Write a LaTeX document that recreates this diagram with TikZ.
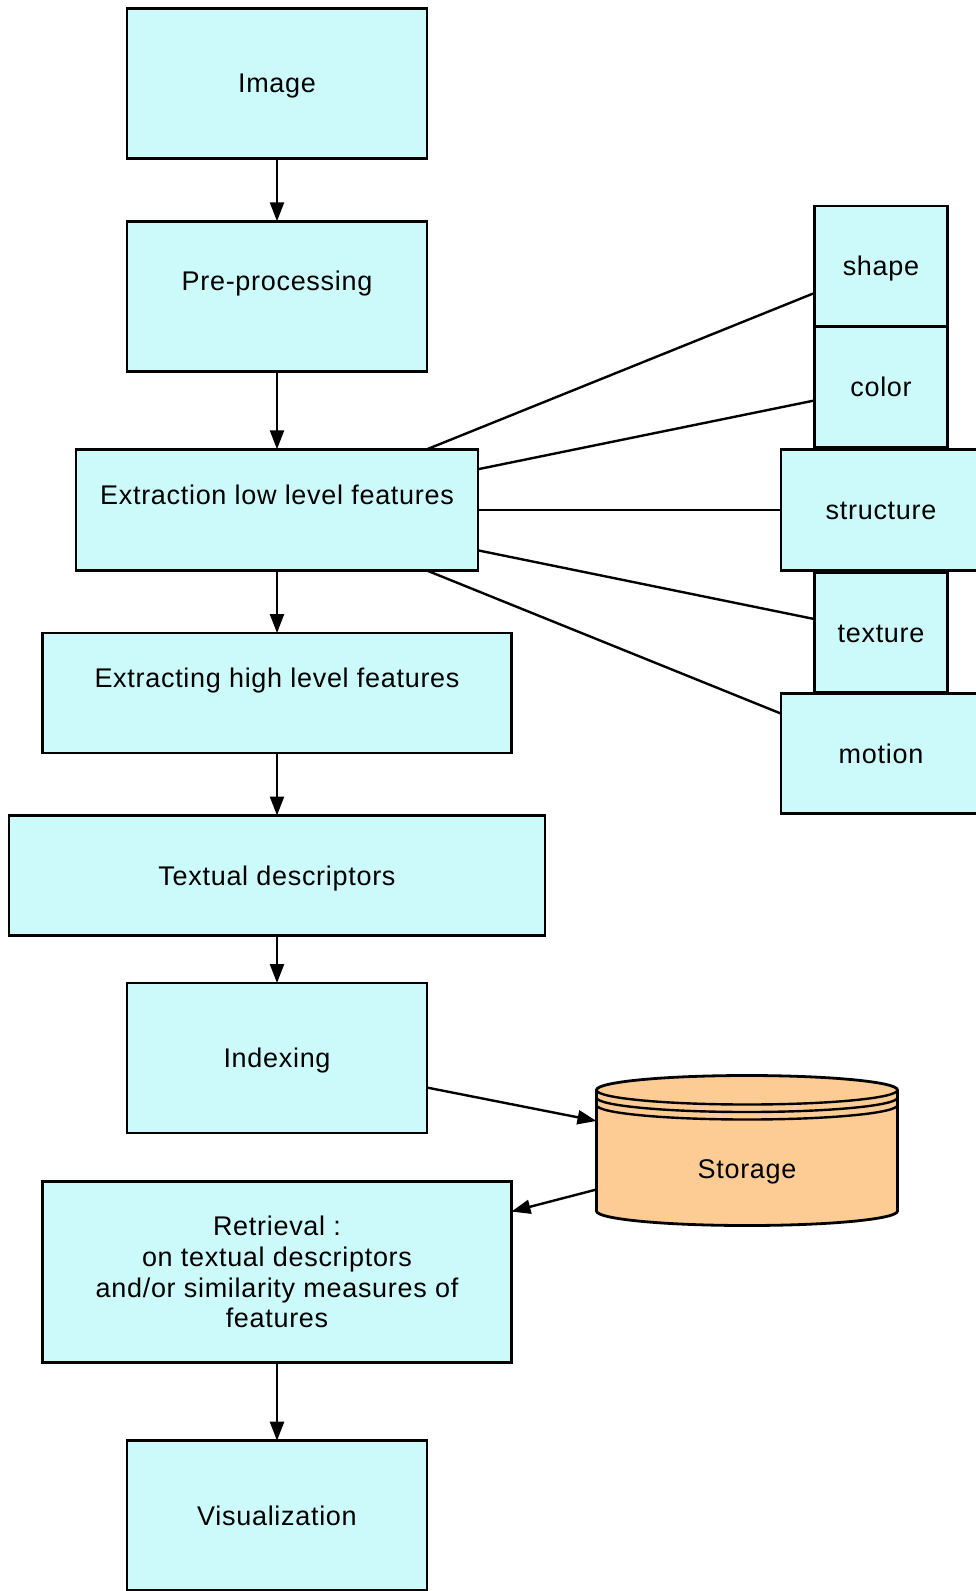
\documentclass[tikz,border=0pt]{standalone}
\usepackage{fontspec}
\setmainfont{Liberation Sans}[LetterSpace=2.6]
\usetikzlibrary{arrows.meta,calc}
\definecolor{boxfill}{RGB}{204,250,250}
\definecolor{storefill}{RGB}{252,204,148}
\begin{document}
\begin{tikzpicture}[x=1pt,y=-1pt,
  box/.style={draw=black, line width=2.8pt, fill=boxfill, rectangle, inner sep=0pt, outer sep=0pt},
  txt/.style={font=\fontsize{27}{30.8}\selectfont, inner sep=0pt, text height=24.5pt, text depth=5.5pt},
  mtxt/.style={font=\fontsize{27}{30.8}\selectfont, inner sep=0pt, align=center},
  flow/.style={line width=2.4pt, -{Triangle[length=19pt,width=14pt]}},
  link/.style={line width=2.4pt},
]
\useasboundingbox (0,0) rectangle (976,1591);

% main pipeline
\node[box, minimum width=300pt, minimum height=150pt,
      label={[txt]center:Image}] (img) at (277,83.2) {};
\node[box, minimum width=300pt, minimum height=150pt,
      label={[txt, yshift=15.3pt]center:Pre-processing}] (pre) at (277,296.3) {};
\node[box, minimum width=402pt, minimum height=121pt,
      label={[txt, yshift=14.8pt]center:Extraction low level features}] (ext) at (277,509.8) {};
\node[box, minimum width=469pt, minimum height=120pt,
      label={[txt, yshift=15.3pt]center:Extracting high level features}] (high) at (277,693) {};
\node[box, minimum width=536pt, minimum height=120pt,
      label={[txt]center:Textual descriptors}] (textual) at (277,875.5) {};
\node[box, minimum width=300pt, minimum height=150pt,
      label={[txt]center:Indexing}] (idx) at (277,1058) {};
\node[box, minimum width=469pt, minimum height=181pt,
      label={[mtxt]center:{Retrieval :\\on textual descriptors\\and/or similarity measures of\\features}}] (ret) at (277,1272) {};
\node[box, minimum width=300pt, minimum height=150pt,
      label={[txt]center:Visualization}] (vis) at (277,1515.7) {};

% low level feature kinds
\node[box, minimum width=133pt, minimum height=120.5pt,
      label={[txt]center:shape}] (shape) at (881,266.3) {};
\node[box, minimum width=133pt, minimum height=120.5pt,
      label={[txt]center:color}] (color) at (881,387) {};
\node[box, minimum width=200pt, minimum height=121pt,
      label={[txt]center:structure}] (structure) at (881,509.8) {};
\node[box, minimum width=133pt, minimum height=120.5pt,
      label={[txt]center:texture}] (texture) at (881,632.5) {};
\node[box, minimum width=200pt, minimum height=120pt,
      label={[txt]center:motion}] (motion) at (881,753.8) {};

% storage cylinder
\node[rectangle, minimum width=301pt, minimum height=150pt, inner sep=0pt, outer sep=0pt] (sto) at (747,1150.5) {};
\filldraw[fill=storefill, line width=2.8pt]
  ($(sto.north west)+(0,14.5)$) -- ($(sto.south west)+(0,-14.5)$)
  arc[start angle=180, end angle=360, x radius=150.5pt, y radius=14.5pt]
  -- ($(sto.north east)+(0,14.5)$)
  arc[start angle=0, end angle=180, x radius=150.5pt, y radius=14.5pt] -- cycle;
\draw[line width=2.4pt] ($(sto.north west)+(0,14.5)$)
  arc[start angle=180, end angle=360, x radius=150.5pt, y radius=14.5pt];
\draw[line width=2.4pt] ($(sto.north west)+(0,22)$)
  arc[start angle=180, end angle=360, x radius=150.5pt, y radius=14.5pt];
\draw[line width=2.4pt] ($(sto.north west)+(0,29.5)$)
  arc[start angle=180, end angle=360, x radius=150.5pt, y radius=14.5pt];
\node[txt] (stotext) at ($(sto.center)+(0,18)$) {Storage};

% connectors
\draw[flow] (img) -- (pre);
\draw[flow] (pre) -- (ext);
\draw[flow] (ext) -- (high);
\draw[flow] (high) -- (textual);
\draw[flow] (textual) -- (idx);
\draw[flow] (idx) -- (sto);
\draw[flow] (sto) -- (ret);
\draw[flow] (ret) -- (vis);

\draw[link] (ext) -- (shape);
\draw[link] (ext) -- (color);
\draw[link] (ext) -- (structure);
\draw[link] (ext) -- (texture);
\draw[link] (ext) -- (motion);
\end{tikzpicture}
\end{document}
